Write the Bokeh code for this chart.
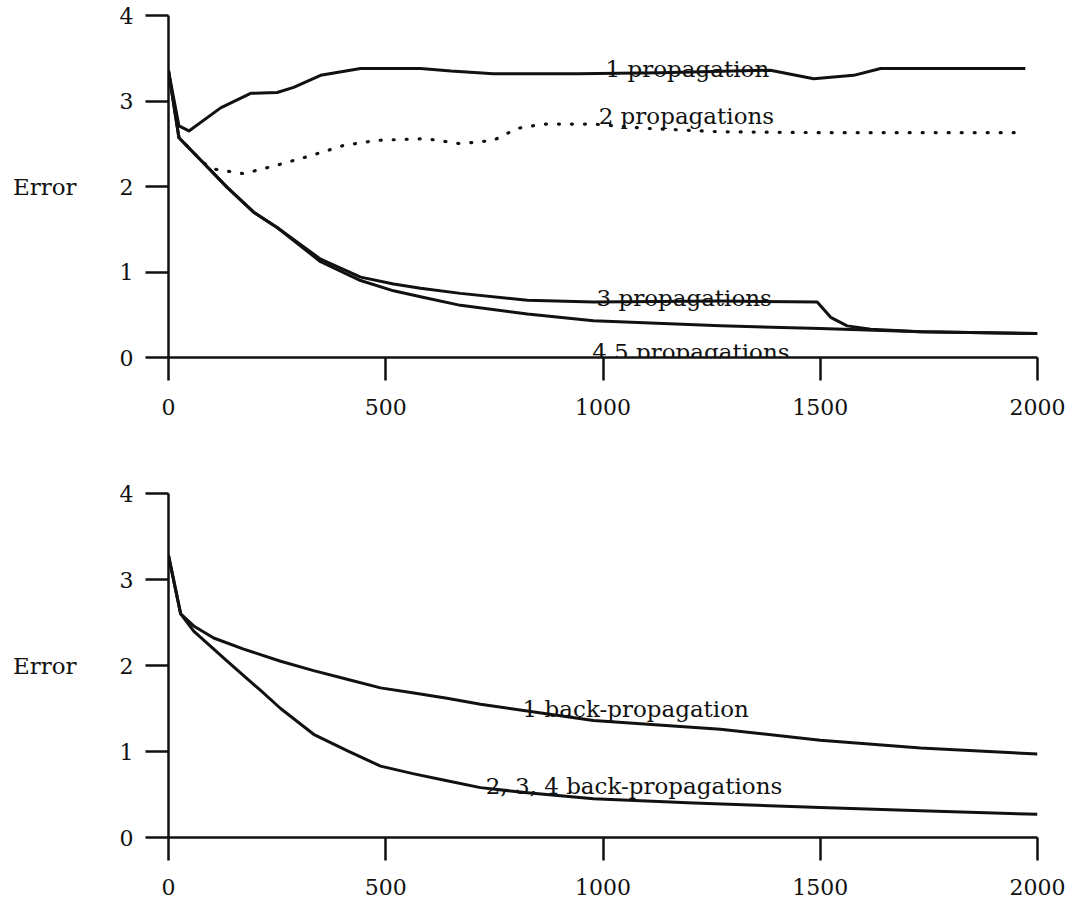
from bokeh.plotting import figure
from bokeh.layouts import column
from bokeh.models import Range1d, FixedTicker, ColumnDataSource
from bokeh.core.properties import value
from bokeh.embed import file_html
from bokeh.resources import INLINE

# ---------------- data ----------------
x_ticks = [0, 500, 1000, 1500, 2000]
y_ticks = [0, 1, 2, 3, 4]

# top panel
p1_x = [0, 24, 47, 120, 189, 250, 288, 350, 442, 580, 650, 748, 941, 1132, 1385, 1485, 1577, 1639, 1731, 1972]
p1_y = [3.35, 2.71, 2.65, 2.92, 3.09, 3.10, 3.16, 3.30, 3.38, 3.38, 3.35, 3.32, 3.32, 3.33, 3.36, 3.26, 3.30, 3.38, 3.38, 3.38]

p2_x = [0, 24, 74, 97, 173, 250, 327, 403, 481, 591, 672, 748, 803, 863, 978, 1100, 1270, 1500, 1972]
p2_y = [3.35, 2.57, 2.31, 2.21, 2.15, 2.25, 2.36, 2.48, 2.54, 2.56, 2.50, 2.54, 2.68, 2.73, 2.73, 2.68, 2.64, 2.63, 2.63]

p3_x = [0, 24, 74, 135, 196, 250, 350, 442, 518, 580, 672, 826, 978, 1270, 1493, 1524, 1562, 1616, 1731, 2000]
p3_y = [3.35, 2.57, 2.31, 1.99, 1.70, 1.52, 1.15, 0.94, 0.86, 0.81, 0.75, 0.67, 0.65, 0.66, 0.65, 0.47, 0.37, 0.33, 0.30, 0.28]

p45_x = [0, 24, 74, 135, 196, 250, 350, 442, 518, 580, 672, 826, 978, 1270, 1500, 1731, 2000]
p45_y = [3.35, 2.57, 2.31, 1.99, 1.70, 1.52, 1.12, 0.90, 0.78, 0.71, 0.61, 0.51, 0.43, 0.37, 0.34, 0.30, 0.28]

top_labels = ["1 propagation", "2 propagations", "3 propagations", "4,5 propagations"]

# bottom panel
b1_x = [0, 28, 58, 104, 173, 258, 334, 411, 488, 565, 641, 718, 978, 1270, 1500, 1731, 2000]
b1_y = [3.28, 2.60, 2.46, 2.32, 2.19, 2.05, 1.94, 1.84, 1.74, 1.68, 1.62, 1.55, 1.36, 1.26, 1.13, 1.04, 0.97]

b234_x = [0, 28, 58, 135, 212, 258, 334, 411, 488, 565, 641, 718, 826, 978, 1209, 1500, 1731, 2000]
b234_y = [3.28, 2.60, 2.40, 2.05, 1.71, 1.50, 1.20, 1.01, 0.83, 0.74, 0.66, 0.58, 0.52, 0.45, 0.40, 0.35, 0.31, 0.27]

bottom_labels = ["1 back-propagation", "2, 3, 4 back-propagations"]

# ---------------- styling ----------------
INK = "#111111"
FONT = "DejaVu Serif"


def make_fig(height, border_top, border_bottom):
    f = figure(width=1070, height=height, output_backend="svg", toolbar_location=None,
               x_range=Range1d(0, 2000), y_range=Range1d(0, 4),
               min_border_left=168, min_border_right=33,
               min_border_top=border_top, min_border_bottom=border_bottom)
    f.outline_line_color = None
    f.xgrid.visible = False
    f.ygrid.visible = False
    f.background_fill_color = "white"
    f.border_fill_color = "white"
    for ax in (f.xaxis[0], f.yaxis[0]):
        ax.axis_line_width = 2.5
        ax.axis_line_color = INK
        ax.major_tick_line_width = 2.5
        ax.major_tick_line_color = INK
        ax.major_tick_in = 0
        ax.major_tick_out = 23
        ax.minor_tick_line_color = None
        ax.major_label_text_font = FONT
        ax.major_label_text_font_size = "22px"
        ax.major_label_text_color = INK
    f.xaxis[0].ticker = FixedTicker(ticks=x_ticks)
    f.yaxis[0].ticker = FixedTicker(ticks=y_ticks)
    f.xaxis[0].major_label_standoff = 18
    f.yaxis[0].major_label_standoff = 12
    f.yaxis[0].axis_label = "Error"
    f.yaxis[0].axis_label_orientation = "horizontal"
    f.yaxis[0].axis_label_text_font = FONT
    f.yaxis[0].axis_label_text_font_style = "normal"
    f.yaxis[0].axis_label_text_font_size = "23px"
    f.yaxis[0].axis_label_text_color = INK
    f.yaxis[0].axis_label_standoff = 40
    return f


LW = 3

top = make_fig(448, 15, 91)
top.line(p1_x, p1_y, line_color=INK, line_width=LW, line_join="round")
top.line(p2_x, p2_y, line_color=INK, line_width=3.2, line_dash="1 12", line_cap="round")
top.line(p3_x, p3_y, line_color=INK, line_width=LW, line_join="round")
top.line(p45_x, p45_y, line_color=INK, line_width=LW, line_join="round")

top_src = ColumnDataSource(dict(x=[1006, 990, 985, 975], y=[3.37, 2.83, 0.70, 0.06], t=top_labels))
top.text(x="x", y="y", text="t", source=top_src, text_font=value(FONT),
         text_font_size="23px", text_color=INK, text_align="left", text_baseline="alphabetic")

bottom = make_fig(457, 45, 68)
bottom.line(b1_x, b1_y, line_color=INK, line_width=LW, line_join="round")
bottom.line(b234_x, b234_y, line_color=INK, line_width=LW, line_join="round")

bot_src = ColumnDataSource(dict(x=[815, 730], y=[1.50, 0.60], t=bottom_labels))
bottom.text(x="x", y="y", text="t", source=bot_src, text_font=value(FONT),
            text_font_size="23px", text_color=INK, text_align="left", text_baseline="alphabetic")

layout = column(top, bottom, spacing=0)
open("out.html", "w").write(file_html(layout, INLINE))
